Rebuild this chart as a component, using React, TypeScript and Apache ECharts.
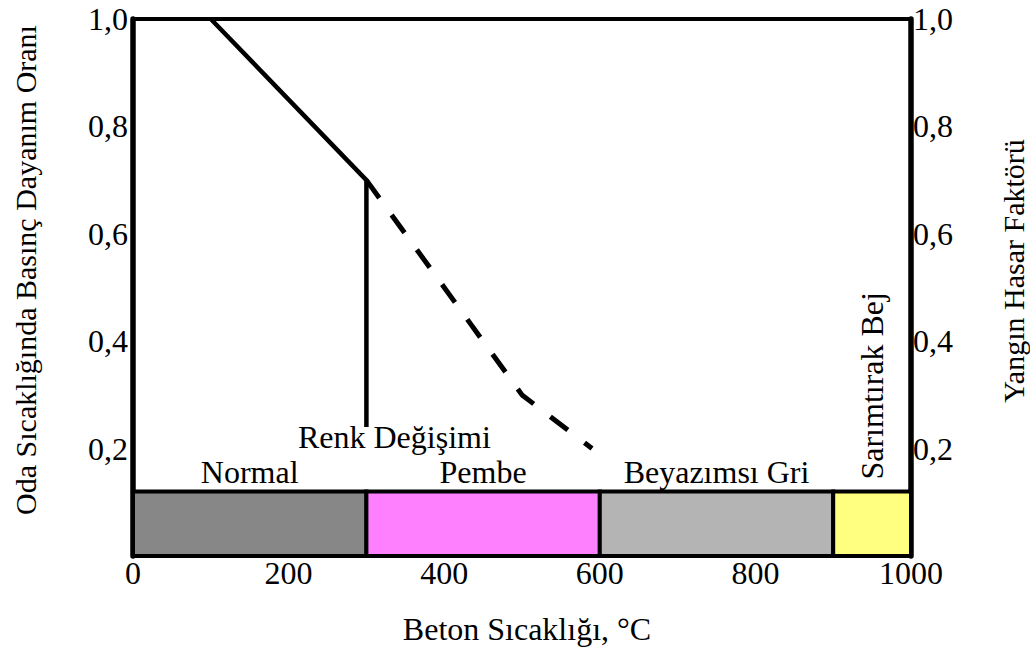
import React, { useEffect, useRef } from "react";
import * as echarts from "echarts";

const FONT = "Times New Roman, Liberation Serif, serif";

// x-axis ticks (°C)
const xTicks = [0, 200, 400, 600, 800, 1000];
// y-axis tick labels (ratio), comma decimal
const yTickLabels = ["", "0,2", "0,4", "0,6", "0,8", "1,0"];

// solid curve: strength ratio, then vertical colour-change marker
const solidTemps = [100, 300, 300];
const solidValues = [1.0, 0.7, 0.24];

// dashed curve
const dashedTemps = [300, 500, 590];
const dashedValues = [0.7, 0.3, 0.2];

// colour bands
const bandNames = ["Normal", "Pembe", "Beyazımsı Gri", "Sarımtırak Bej"];
const bandStarts = [0, 300, 600, 900];
const bandEnds = [300, 600, 900, 1000];
const bandColors = ["#878787", "#ff80ff", "#b4b4b4", "#ffff80"];
const bandHeight = 0.12;

const markerLabel = "Renk Değişimi";
const xTitle = "Beton Sıcaklığı, °C";
const yLeftTitle = "Oda Sıcaklığında Basınç Dayanım Oranı";
const yRightTitle = "Yangın Hasar Faktörü";

export default function App() {
  const ref = useRef<HTMLDivElement>(null);

  useEffect(() => {
    if (!ref.current) return;
    const chart = echarts.init(ref.current, null, { renderer: "svg" });

    const yFormatter = (v: number) => {
      const idx = Math.round(v / 0.2);
      return yTickLabels[idx] ?? "";
    };

    const bandData = bandNames.map((name, i) => {
      const isLast = i === bandNames.length - 1;
      return [
        {
          name,
          xAxis: bandStarts[i],
          yAxis: 0,
          itemStyle: { color: bandColors[i] },
          label: isLast
            ? {
                show: true,
                position: "top",
                distance: 10,
                rotate: 90,
                align: "left",
                verticalAlign: "middle",
              }
            : { show: true, position: "top", distance: 2 },
        },
        { xAxis: bandEnds[i], yAxis: bandHeight },
      ];
    });

    const labelText = { fontFamily: FONT, fontSize: 32, color: "#000" };
    const yAxisLine = { show: true, lineStyle: { color: "#000", width: 5.5 } };

    chart.setOption({
      animation: false,
      backgroundColor: "#fff",
      textStyle: { fontFamily: FONT },
      grid: {
        left: 133,
        top: 19,
        width: 778,
        height: 537,
        show: true,
        borderColor: "#000",
        borderWidth: 4,
        backgroundColor: "transparent",
      },
      xAxis: {
        type: "value",
        min: 0,
        max: 1000,
        interval: 200,
        axisLine: { show: false },
        axisTick: { show: false },
        splitLine: { show: false },
        axisLabel: {
          ...labelText,
          margin: 1,
          showMinLabel: true,
          showMaxLabel: true,
          formatter: (v: number) => (xTicks.includes(v) ? String(v) : ""),
        },
      },
      yAxis: [
        {
          type: "value",
          position: "left",
          min: 0,
          max: 1,
          interval: 0.2,
          axisLine: yAxisLine,
          axisTick: { show: false },
          splitLine: { show: false },
          axisLabel: { ...labelText, margin: 5, formatter: yFormatter },
        },
        {
          type: "value",
          position: "right",
          min: 0,
          max: 1,
          interval: 0.2,
          axisLine: yAxisLine,
          axisTick: { show: false },
          splitLine: { show: false },
          axisLabel: { ...labelText, margin: 2, formatter: yFormatter },
        },
      ],
      series: [
        {
          type: "line",
          name: "bands",
          data: [],
          z: 1,
          markArea: {
            silent: true,
            itemStyle: { borderColor: "#000", borderWidth: 4, opacity: 1 },
            label: { ...labelText, formatter: "{b}" },
            data: bandData,
          },
        },
        {
          type: "line",
          name: "solid",
          symbol: "none",
          z: 3,
          lineStyle: { color: "#000", width: 4.5 },
          data: solidTemps.map((t, i) => [t, solidValues[i]]),
        },
        {
          type: "line",
          name: "dashed",
          symbol: "none",
          z: 3,
          lineStyle: { color: "#000", width: 5, type: [22, 21] },
          data: dashedTemps.map((t, i) => [t, dashedValues[i]]),
        },
        {
          type: "scatter",
          name: "marker",
          symbolSize: 0,
          z: 4,
          itemStyle: { opacity: 1, color: "#000" },
          label: {
            show: true,
            ...labelText,
            position: "bottom",
            distance: 0,
            offset: [28, -6],
            formatter: markerLabel,
          },
          data: [[solidTemps[2], solidValues[2]]],
        },
      ],
      graphic: [
        {
          type: "text",
          x: 527,
          y: 629,
          style: {
            text: xTitle,
            font: `32px ${FONT}`,
            fill: "#000",
            align: "center",
            verticalAlign: "middle",
            textAlign: "center",
            textVerticalAlign: "middle",
          },
        },
        {
          type: "text",
          x: 25,
          y: 270,
          rotation: Math.PI / 2,
          style: {
            text: yLeftTitle,
            font: `30px ${FONT}`,
            fill: "#000",
            align: "center",
            verticalAlign: "middle",
            textAlign: "center",
            textVerticalAlign: "middle",
          },
        },
        {
          type: "text",
          x: 1013,
          y: 271,
          rotation: Math.PI / 2,
          style: {
            text: yRightTitle,
            font: `30px ${FONT}`,
            fill: "#000",
            align: "center",
            verticalAlign: "middle",
            textAlign: "center",
            textVerticalAlign: "middle",
          },
        },
      ],
    });

    return () => chart.dispose();
  }, []);

  return (
    <div
      ref={ref}
      style={{ position: "fixed", left: 0, top: 0, width: 1030, height: 648 }}
    />
  );
}
